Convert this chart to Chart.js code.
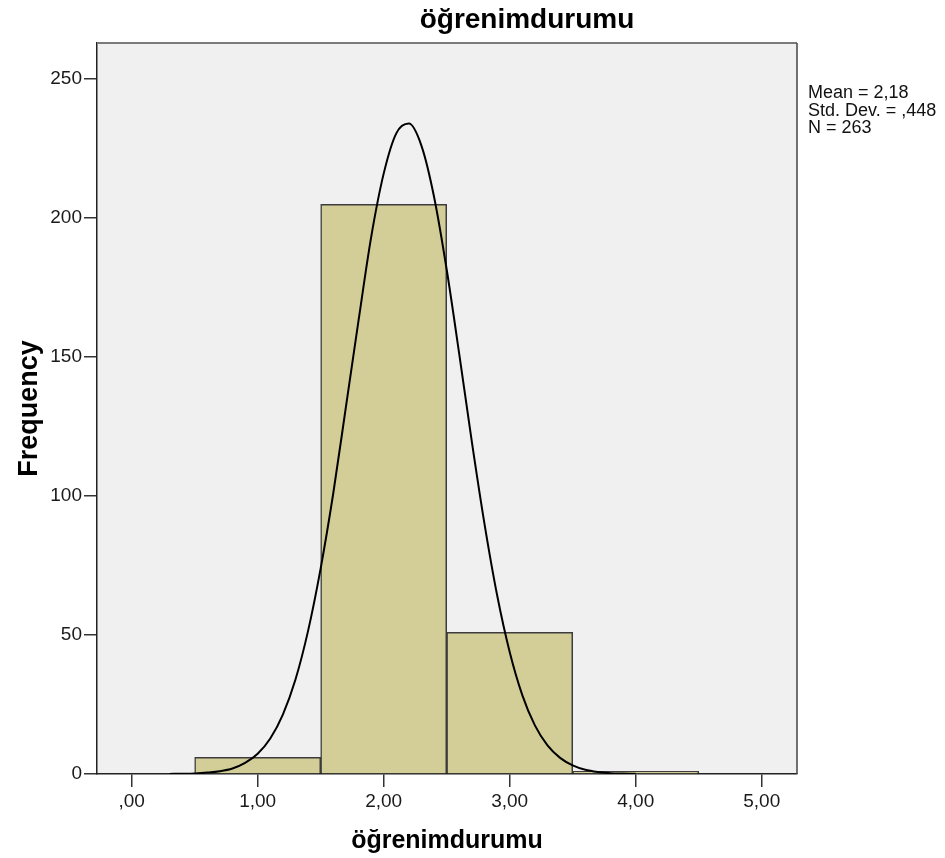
<!DOCTYPE html>
<html>
<head>
<meta charset="utf-8">
<script src="https://cdn.jsdelivr.net/npm/chart.js@4.4.1/dist/chart.umd.min.js"></script>
<style>
html,body{margin:0;padding:0;background:#ffffff;}
#wrap{position:relative;width:945px;height:858px;}
</style>
</head>
<body>
<div id="wrap"><canvas id="c"></canvas></div>
<script>
// ---- data ----
const binCenters = [1, 2, 3, 4];
const binCounts = [6, 205, 51, 1];
const curveX = [0.3,0.4,0.5,0.6,0.7,0.8,0.9,1.0,1.1,1.2,1.3,1.4,1.5,1.6,1.7,1.8,1.9,2.0,2.1,2.2,2.3,2.4,2.5,2.6,2.7,2.8,2.9,3.0,3.1,3.2,3.3,3.4,3.5,3.6,3.7,3.8,3.9,4.0];
const curveY = [0.04,0.09,0.2,0.5,1.0,2.0,4.0,7.3,12.8,21.4,34,51.5,74,101,132,163,193,216,230.5,234,226,207.6,181.5,151,119.4,90,64.4,43.9,28.4,17.5,10.3,5.8,3.1,1.5,0.7,0.3,0.15,0.06];
const xTickValues = [0, 1, 2, 3, 4, 5];
const xTickLabels = [',00', '1,00', '2,00', '3,00', '4,00', '5,00'];
const yTickValues = [0, 50, 100, 150, 200, 250];
const yTickLabels = ['0', '50', '100', '150', '200', '250'];
const titleText = 'öğrenimdurumu';
const xTitleText = 'öğrenimdurumu';
const yTitleText = 'Frequency';
const statsLines = ['Mean = 2,18', 'Std. Dev. = ,448', 'N = 263'];

const FONT = '"Liberation Sans", Arial, sans-serif';

const decor = {
  id: 'decor',
  beforeDraw(chart) {
    const {ctx, chartArea: a} = chart;
    ctx.save();
    ctx.fillStyle = '#f0f0f0';
    ctx.fillRect(a.left, a.top, a.right - a.left, a.bottom - a.top);
    ctx.restore();
  },
  afterDraw(chart) {
    const {ctx, chartArea: a} = chart;
    ctx.save();
    // top & right frame
    ctx.strokeStyle = '#7a7a7a';
    ctx.lineWidth = 2;
    ctx.beginPath();
    ctx.moveTo(a.left, a.top);
    ctx.lineTo(a.right, a.top);
    ctx.stroke();
    ctx.strokeStyle = '#444444';
    ctx.lineWidth = 1.5;
    ctx.beginPath();
    ctx.moveTo(a.right, a.top);
    ctx.lineTo(a.right, a.bottom);
    ctx.stroke();
    // titles
    ctx.fillStyle = '#000';
    ctx.textAlign = 'center';
    ctx.textBaseline = 'alphabetic';
    ctx.font = 'bold 28px ' + FONT;
    ctx.fillText(titleText, 527, 28);
    ctx.font = 'bold 25px ' + FONT;
    ctx.fillText(xTitleText, (a.left + a.right) / 2, 848);
    ctx.save();
    ctx.translate(37, (a.top + a.bottom) / 2);
    ctx.rotate(-Math.PI / 2);
    ctx.font = 'bold 27px ' + FONT;
    ctx.fillText(yTitleText, 0, 0);
    ctx.restore();
    // stats
    ctx.textAlign = 'left';
    ctx.font = '18px ' + FONT;
    ctx.fillStyle = '#111';
    statsLines.forEach((s, i) => ctx.fillText(s, 808, 98 + i * 17.5));
    ctx.restore();
  }
};

new Chart(document.getElementById('c'), {
  type: 'bar',
  data: {
    datasets: [
      {
        type: 'line',
        data: curveX.map((x, i) => ({x: x, y: curveY[i]})),
        borderColor: '#000',
        borderWidth: 2,
        pointRadius: 0,
        cubicInterpolationMode: 'monotone',
        fill: false,
        order: 0
      },
      {
        type: 'bar',
        data: binCenters.map((x, i) => ({x: x, y: binCounts[i]})),
        backgroundColor: '#d3ce97',
        borderColor: '#3c3c3c',
        borderWidth: 1.5,
        barPercentage: 1,
        categoryPercentage: 1,
        grouped: false,
        order: 1
      }
    ]
  },
  plugins: [decor],
  options: {
    responsive: true,
    maintainAspectRatio: false,
    animation: false,
    layout: {padding: {left: 0, right: 148, top: 43, bottom: 0}},
    plugins: {legend: {display: false}, tooltip: {enabled: false}, title: {display: false}},
    scales: {
      x: {
        type: 'linear',
        min: -0.275,
        max: 5.28,
        offset: false,
        afterBuildTicks: s => { s.ticks = xTickValues.map(v => ({value: v})); },
        afterFit: s => { s.height = 84; },
        ticks: {
          autoSkip: false,
          maxRotation: 0,
          padding: 3,
          color: '#1a1a1a',
          font: {family: FONT, size: 19},
          callback: (v) => xTickLabels[xTickValues.indexOf(v)]
        },
        grid: {offset: false, drawOnChartArea: false, drawTicks: true, tickLength: 13, color: '#333', lineWidth: 1.5},
        border: {display: true, color: '#222', width: 1.5}
      },
      y: {
        type: 'linear',
        min: 0,
        max: 263,
        afterBuildTicks: s => { s.ticks = yTickValues.map(v => ({value: v})); },
        afterFit: s => { s.width = 97; },
        ticks: {
          padding: 2,
          color: '#1a1a1a',
          font: {family: FONT, size: 19},
          callback: (v) => yTickLabels[yTickValues.indexOf(v)]
        },
        grid: {offset: false, drawOnChartArea: false, drawTicks: true, tickLength: 13, color: '#333', lineWidth: 1.5},
        border: {display: true, color: '#222', width: 1.5}
      }
    }
  }
});
</script>
</body>
</html>
